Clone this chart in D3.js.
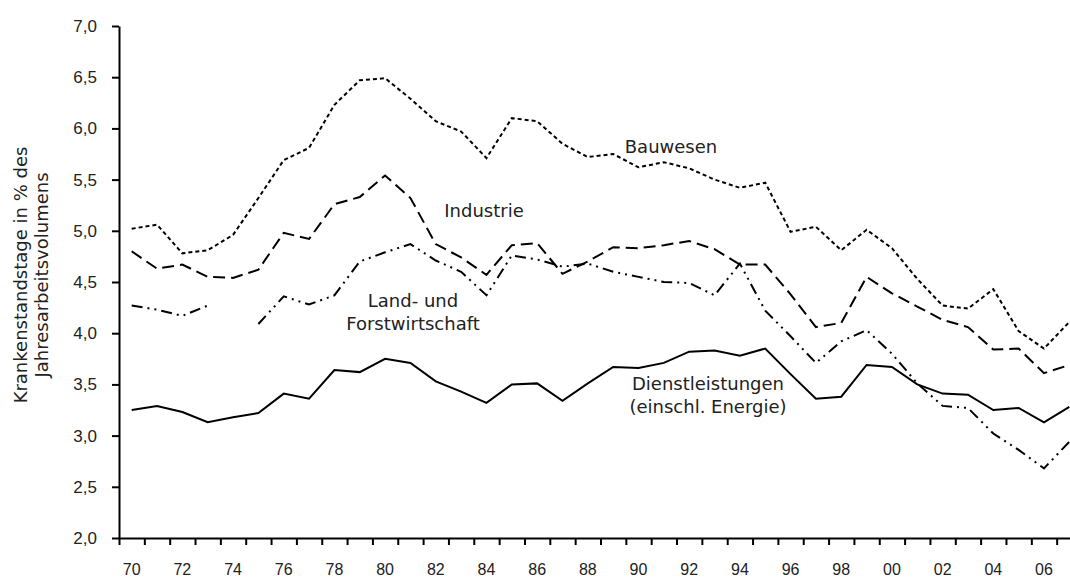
<!DOCTYPE html>
<html>
<head>
<meta charset="utf-8">
<script src="https://cdn.jsdelivr.net/npm/d3@7"></script>
<style>
  body { margin: 0; background: #fff; }
  svg { display: block; font-family: "DejaVu Sans", sans-serif; }
  .axis path, .axis line { stroke: #000; stroke-width: 2px; }
  .axis text { fill: #222; font-size: 17px; }
  .xlab text { font-size: 16px; }
  .label { fill: #222; font-size: 18px; }
</style>
</head>
<body>
<script>
// Jahre (Kategorien), 2007 wird am rechten Rand abgeschnitten
var years = [1970, 1971, 1972, 1973, 1974, 1975, 1976, 1977, 1978, 1979,
             1980, 1981, 1982, 1983, 1984, 1985, 1986, 1987, 1988, 1989,
             1990, 1991, 1992, 1993, 1994, 1995, 1996, 1997, 1998, 1999,
             2000, 2001, 2002, 2003, 2004, 2005, 2006, 2007];

var yearLabels = ["70", "72", "74", "76", "78", "80", "82", "84", "86", "88",
                  "90", "92", "94", "96", "98", "00", "02", "04", "06"];
var labelYears = [1970, 1972, 1974, 1976, 1978, 1980, 1982, 1984, 1986, 1988,
                  1990, 1992, 1994, 1996, 1998, 2000, 2002, 2004, 2006];

var yTicks = [2.0, 2.5, 3.0, 3.5, 4.0, 4.5, 5.0, 5.5, 6.0, 6.5, 7.0];

var bauwesen = [5.02, 5.06, 4.78, 4.81, 4.96, 5.32, 5.69, 5.81, 6.23, 6.47,
                6.49, 6.29, 6.07, 5.97, 5.71, 6.10, 6.07, 5.85, 5.72, 5.75,
                5.62, 5.67, 5.61, 5.50, 5.42, 5.47, 4.99, 5.04, 4.81, 5.01,
                4.83, 4.53, 4.27, 4.24, 4.43, 4.02, 3.85, 4.11];

var industrie = [4.80, 4.63, 4.67, 4.55, 4.54, 4.62, 4.98, 4.92, 5.26, 5.33,
                 5.54, 5.32, 4.87, 4.74, 4.57, 4.86, 4.88, 4.58, 4.70, 4.84,
                 4.83, 4.86, 4.90, 4.82, 4.67, 4.67, 4.38, 4.06, 4.10, 4.55,
                 4.39, 4.26, 4.13, 4.06, 3.84, 3.85, 3.61, 3.69];

// 1974 fehlt (Luecke in der Linie)
var landForst = [4.27, 4.23, 4.17, 4.27, null, 4.09, 4.36, 4.28, 4.37, 4.70,
                 4.79, 4.87, 4.71, 4.60, 4.37, 4.76, 4.72, 4.65, 4.68, 4.60,
                 4.55, 4.50, 4.49, 4.37, 4.68, 4.22, 3.97, 3.71, 3.92, 4.03,
                 3.80, 3.51, 3.29, 3.27, 3.02, 2.86, 2.68, 2.94];

var dienst = [3.25, 3.29, 3.23, 3.13, 3.18, 3.22, 3.41, 3.36, 3.64, 3.62,
              3.75, 3.71, 3.53, 3.43, 3.32, 3.50, 3.51, 3.34, 3.51, 3.67,
              3.66, 3.71, 3.82, 3.83, 3.78, 3.85, 3.60, 3.36, 3.38, 3.69,
              3.67, 3.50, 3.41, 3.40, 3.25, 3.27, 3.13, 3.28];

var width = 1070,
    height = 580;

var svg = d3.select("body")
    .append("svg")
    .attr("width", width)
    .attr("height", height);

var x = d3.scaleBand()
    .domain(years)
    .range([119, 1082]);

// Skala fuer die Trennstriche zwischen den Kategorien
var xEdge = d3.scaleLinear()
    .domain([0, years.length])
    .range([119, 1082]);

var y = d3.scaleLinear()
    .domain([2, 7])
    .range([538, 26]);

var fmt = d => d3.format(".1f")(d).replace(".", ",");

// y-Achse
svg.append("g")
    .attr("class", "axis")
    .attr("transform", "translate(119,0)")
    .call(d3.axisLeft(y).tickValues(yTicks).tickFormat(fmt).tickSize(7).tickSizeOuter(0).tickPadding(15));

// x-Achse: Striche an den Kategoriegrenzen
svg.append("g")
    .attr("class", "axis")
    .attr("transform", "translate(0,538)")
    .call(d3.axisBottom(xEdge).tickValues(d3.range(0, years.length + 1)).tickFormat("").tickSize(7).tickSizeOuter(0));

// x-Achse: Beschriftung in der Mitte der Kategorien
var xLabels = svg.append("g")
    .attr("class", "axis xlab")
    .attr("transform", "translate(0,538)")
    .call(d3.axisBottom(x).tickValues(labelYears)
        .tickFormat((d, i) => yearLabels[i]).tickSize(0).tickPadding(26));
xLabels.select(".domain").remove();

var line = d3.line()
    .defined(d => d.v != null)
    .x(d => x(d.year) + x.bandwidth() / 2)
    .y(d => y(d.v));

var series = [
    { name: "Bauwesen", values: bauwesen, dash: "4,3" },
    { name: "Industrie", values: industrie, dash: "12,6" },
    { name: "Land- und Forstwirtschaft", values: landForst, dash: "11,5,2,5,2,5" },
    { name: "Dienstleistungen", values: dienst, dash: null }
];

svg.selectAll(".serie")
    .data(series)
    .join("path")
    .attr("class", "serie")
    .attr("fill", "none")
    .attr("stroke", "#000")
    .attr("stroke-width", 2)
    .attr("stroke-dasharray", d => d.dash)
    .attr("d", d => line(d.values.map((v, i) => ({ year: years[i], v: v }))));

// Beschriftungen der Linien
var labels = [
    { lines: ["Bauwesen"], x: 671, y: 153 },
    { lines: ["Industrie"], x: 484, y: 217 },
    { lines: ["Land- und", "Forstwirtschaft"], x: 413, y: 307 },
    { lines: ["Dienstleistungen", "(einschl. Energie)"], x: 708, y: 390 }
];

labels.forEach(l => {
    var t = svg.append("text")
        .attr("class", "label")
        .attr("text-anchor", "middle")
        .attr("x", l.x)
        .attr("y", l.y);
    l.lines.forEach((s, i) => {
        t.append("tspan").attr("x", l.x).attr("dy", i == 0 ? 0 : 22.5).text(s);
    });
});

// Titel der y-Achse
var title = svg.append("text")
    .attr("class", "label")
    .attr("text-anchor", "middle")
    .attr("transform", "translate(27,275) rotate(-90)");
title.append("tspan").attr("x", 0).attr("y", 0).text("Krankenstandstage in % des");
title.append("tspan").attr("x", 0).attr("y", 21).text("Jahresarbeitsvolumens");
</script>
</body>
</html>
